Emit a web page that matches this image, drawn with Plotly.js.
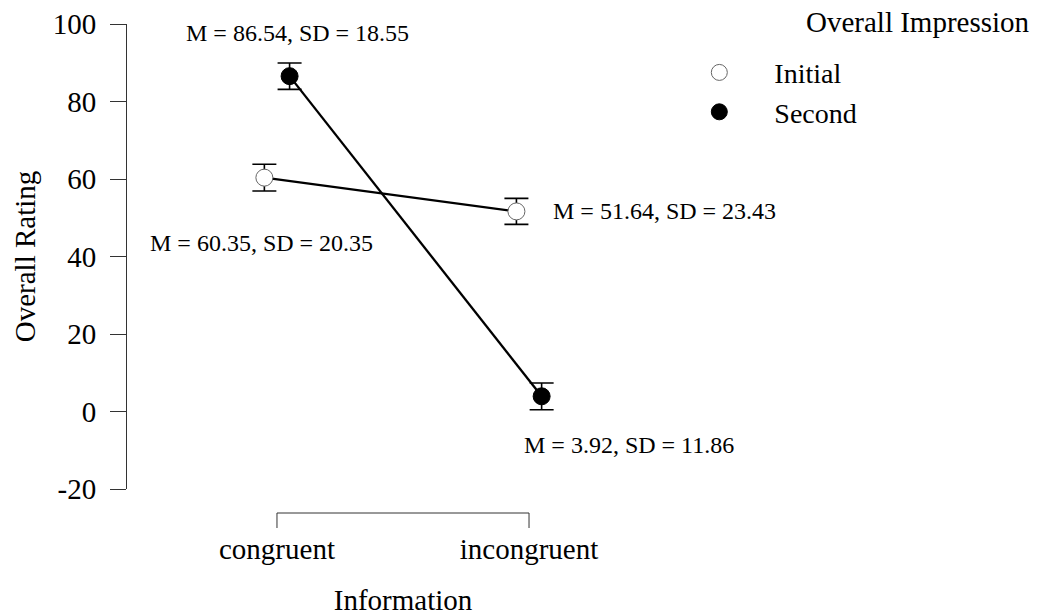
<!DOCTYPE html>
<html><head><meta charset="utf-8">
<script src="https://cdn.plot.ly/plotly-3.0.1.min.js"></script>
<style>html,body{margin:0;padding:0;background:#fff}#chart{width:1038px;height:616px}</style>
</head><body><div id="chart"></div>
<script>
// ---- data ----
const categories = ['congruent', 'incongruent'];
const seriesNames = ['Initial', 'Second'];
const initialMeans = [60.35, 51.64];
const initialSDs = [20.35, 23.43];
const initialErr = [3.45, 3.35];
const secondMeans = [86.54, 3.92];
const secondSDs = [18.55, 11.86];
const secondErr = [3.4, 3.45];
const yTickVals = [-20, 0, 20, 40, 60, 80, 100];
const yTickText = ['-20', '0', '20', '40', '60', '80', '100'];
const legendTitle = 'Overall Impression';
const xTitle = 'Information';
const yTitle = 'Overall Rating';

// ---- style ----
const FONT = '"Liberation Serif", "Times New Roman", Times, serif';
const BIG = 29;
const DODGE = 0.05;
const idx = categories.map((c, i) => i);
const xInit = idx.map(i => i - DODGE);
const xSec = idx.map(i => i + DODGE);

const lineStyle = {color: '#000', width: 2.3};
const errStyle = (arr) => ({type: 'data', array: arr, visible: true, color: '#000', thickness: 1.6, width: 12});

const traces = [
  {x: xInit, y: initialMeans, mode: 'lines', line: lineStyle, showlegend: false, hoverinfo: 'skip'},
  {x: xSec, y: secondMeans, mode: 'lines', line: lineStyle, showlegend: false, hoverinfo: 'skip'},
  {x: xInit, y: initialMeans, mode: 'markers', name: seriesNames[0],
   marker: {size: 17, color: '#fff', line: {color: '#666', width: 1}},
   error_y: errStyle(initialErr)},
  {x: xSec, y: secondMeans, mode: 'markers', name: seriesNames[1],
   marker: {size: 17, color: '#000', line: {color: '#000', width: 1}},
   error_y: errStyle(secondErr)}
];

const label = (m, s) => `M = ${m.toFixed(2)}, SD = ${s.toFixed(2)}`;
const annFont = {family: FONT, size: 24, color: '#000'};
const annotations = [
  {x: xSec[0], y: secondMeans[0], text: label(secondMeans[0], secondSDs[0]), xshift: 8, yshift: 43, xanchor: 'center', yanchor: 'middle'},
  {x: xInit[0], y: initialMeans[0], text: label(initialMeans[0], initialSDs[0]), xshift: -3, yshift: -65, xanchor: 'center', yanchor: 'middle'},
  {x: xInit[1], y: initialMeans[1], text: label(initialMeans[1], initialSDs[1]), xshift: 35, yshift: 0, xanchor: 'left', yanchor: 'middle'},
  {x: xSec[1], y: secondMeans[1], text: label(secondMeans[1], secondSDs[1]), xshift: 87, yshift: -49, xanchor: 'center', yanchor: 'middle'}
].map(a => Object.assign({xref: 'x', yref: 'y', showarrow: false, font: annFont}, a));

annotations.push({xref: 'paper', yref: 'paper', x: 1.6395, y: 1.004, xanchor: 'right', yanchor: 'middle',
  text: legendTitle, showarrow: false, font: {family: FONT, size: BIG, color: '#000'}});

const axColor = '#333';
const bracketY = -24, bracketTick = -39;
const shapes = [
  {type: 'line', xref: 'x', yref: 'paper', ysizemode: 'pixel', yanchor: 0, x0: idx[0], x1: idx[idx.length - 1], y0: bracketY, y1: bracketY, line: {color: axColor, width: 1}},
  ...idx.map(i => ({type: 'line', xref: 'x', yref: 'paper', ysizemode: 'pixel', yanchor: 0, x0: i, x1: i, y0: bracketY, y1: bracketTick, line: {color: axColor, width: 1}}))
];

const layout = {
  width: 1038, height: 616,
  margin: {l: 127, r: 359, t: 24, b: 127},
  paper_bgcolor: '#fff', plot_bgcolor: '#fff',
  font: {family: FONT, size: BIG, color: '#000'},
  showlegend: true,
  legend: {xref: 'paper', yref: 'paper', x: 0.9734, y: 0.949, xanchor: 'left', yanchor: 'top',
    font: {family: FONT, size: 28, color: '#000'}, itemwidth: 100, bgcolor: 'rgba(0,0,0,0)', borderwidth: 0, itemclick: false},
  xaxis: {
    range: [-0.595, 1.595], tickmode: 'array', tickvals: idx, ticktext: categories,
    showline: false, showgrid: false, zeroline: false, ticks: '', ticklabelstandoff: 40,
    tickfont: {family: FONT, size: BIG, color: '#000'},
    title: {text: xTitle, font: {family: FONT, size: BIG, color: '#000'}, standoff: 28},
    automargin: false, fixedrange: true
  },
  yaxis: {
    range: [-20, 100], tickmode: 'array', tickvals: yTickVals, ticktext: yTickText,
    showline: true, linecolor: axColor, linewidth: 1,
    ticks: 'outside', ticklen: 16, tickcolor: axColor, tickwidth: 1, ticklabelstandoff: 8,
    showgrid: false, zeroline: false,
    tickfont: {family: FONT, size: BIG, color: '#000'},
    title: {text: yTitle, font: {family: FONT, size: BIG, color: '#000'}, standoff: 8},
    automargin: false, fixedrange: true
  },
  annotations: annotations,
  shapes: shapes
};

Plotly.newPlot('chart', traces, layout, {displayModeBar: false, staticPlot: true});
</script>
</body></html>
